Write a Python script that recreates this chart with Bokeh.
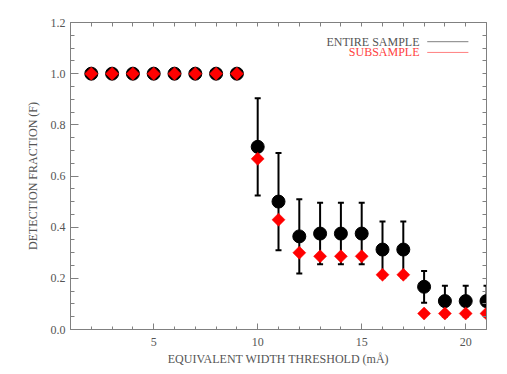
import numpy as np
from bokeh.plotting import figure
from bokeh.models import (LinearAxis, FixedTicker, PrintfTickFormatter, Label,
                          ColumnDataSource, Range1d)
from bokeh.embed import file_html
from bokeh.resources import INLINE

# ---- data ----
thresholds = [2, 3, 4, 5, 6, 7, 8, 9, 10, 11, 12, 13, 14, 15, 16, 17, 18, 19, 20, 21]
entire_frac = [1.0, 1.0, 1.0, 1.0, 1.0, 1.0, 1.0, 1.0,
               0.714, 0.50, 0.364, 0.375, 0.375, 0.375, 0.3125, 0.3125,
               0.167, 0.111, 0.111, 0.111]
entire_err = [0, 0, 0, 0, 0, 0, 0, 0,
              0.19, 0.19, 0.145, 0.12, 0.12, 0.12, 0.11, 0.11,
              0.062, 0.06, 0.06, 0.06]
sub_frac = [1.0, 1.0, 1.0, 1.0, 1.0, 1.0, 1.0, 1.0,
            0.667, 0.429, 0.30, 0.286, 0.286, 0.286, 0.214, 0.214,
            0.0625, 0.0625, 0.0625, 0.0625]
x_major = [5, 10, 15, 20]
y_major = [0.0, 0.2, 0.4, 0.6, 0.8, 1.0, 1.2]
legend_labels = ["ENTIRE SAMPLE", "SUBSAMPLE"]

FONT = "Liberation Serif"
AXIS_COLOR = "#808080"
TEXT_COLOR = "#555555"

x_arr = np.array(thresholds, dtype=float)
e_arr = np.array(entire_frac)
err = np.array(entire_err)
has_err = err > 0
src_err = ColumnDataSource(dict(
    x=x_arr[has_err],
    lo=(e_arr - err)[has_err],
    hi=(e_arr + err)[has_err],
))
src_pts = ColumnDataSource(dict(x=x_arr, e=e_arr, s=np.array(sub_frac)))

p = figure(width=507, height=374, output_backend="svg", toolbar_location=None,
           x_range=Range1d(1, 21), y_range=Range1d(0, 1.2),
           x_axis_location=None, y_axis_location=None,
           min_border_left=70, min_border_right=21, min_border_top=22,
           min_border_bottom=45)
p.grid.visible = False
p.outline_line_color = None
p.background_fill_color = "white"
p.border_fill_color = "white"

x_minor = list(range(1, 22))
y_minor = [round(v * 0.05, 2) for v in range(0, 25)]


def style_axis(ax):
    ax.major_tick_out = 0
    ax.minor_tick_out = 0
    ax.axis_line_color = AXIS_COLOR
    ax.major_tick_line_color = AXIS_COLOR
    ax.minor_tick_line_color = AXIS_COLOR
    ax.axis_line_width = 1
    ax.major_label_text_font = FONT
    ax.major_label_text_font_size = "12px"
    ax.major_label_text_color = TEXT_COLOR
    ax.axis_label_text_font = FONT
    ax.axis_label_text_font_size = "12px"
    ax.axis_label_text_font_style = "normal"
    ax.axis_label_text_color = TEXT_COLOR
    return ax


bottom = style_axis(LinearAxis(
    ticker=FixedTicker(ticks=x_major, minor_ticks=x_minor),
    formatter=PrintfTickFormatter(format="%d"),
    axis_label="EQUIVALENT WIDTH THRESHOLD (mÅ)"))
bottom.major_tick_in = 6
bottom.minor_tick_in = 3
bottom.major_label_standoff = 8
bottom.axis_label_standoff = 3

left = style_axis(LinearAxis(
    ticker=FixedTicker(ticks=y_major, minor_ticks=y_minor),
    formatter=PrintfTickFormatter(format="%.1f"),
    axis_label="DETECTION FRACTION (F)"))
left.major_tick_in = 8
left.minor_tick_in = 4
left.major_label_standoff = 5
left.axis_label_standoff = 8

# mirror axes: ticks only, no labels
top = style_axis(LinearAxis(ticker=FixedTicker(ticks=[], minor_ticks=x_minor)))
top.minor_tick_in = 4
right = style_axis(LinearAxis(ticker=FixedTicker(ticks=[], minor_ticks=y_minor)))
right.minor_tick_in = 4

p.add_layout(bottom, "below")
p.add_layout(left, "left")
p.add_layout(top, "above")
p.add_layout(right, "right")

# error bars
p.segment(x0="x", y0="lo", x1="x", y1="hi", source=src_err,
          line_color="black", line_width=2)
p.scatter(x="x", y="hi", source=src_err, marker="dash", size=6,
          line_color="black", line_width=2)
p.scatter(x="x", y="lo", source=src_err, marker="dash", size=6,
          line_color="black", line_width=2)

# points
p.scatter(x="x", y="e", source=src_pts, marker="circle", size=13,
          fill_color="black", line_color="black")
p.scatter(x="x", y="s", source=src_pts, marker="square", size=9.2,
          angle=np.pi / 4, fill_color="red", line_color="red", line_width=0.5)

# legend (text left, line right)
legend_y = [1.125, 1.083]
legend_text_colors = ["#555555", "#ff4040"]
legend_line_colors = ["#808080", "#ff8080"]
for lab, ly, tc, lc in zip(legend_labels, legend_y, legend_text_colors, legend_line_colors):
    p.add_layout(Label(x=17.78, y=ly, text=lab, text_align="right",
                       text_baseline="middle", text_font=FONT,
                       text_font_size="12px", text_color=tc))
    p.line(x=[18.15, 20.13], y=[ly, ly], line_color=lc, line_width=1)

open("out.html", "w").write(file_html(p, INLINE))
